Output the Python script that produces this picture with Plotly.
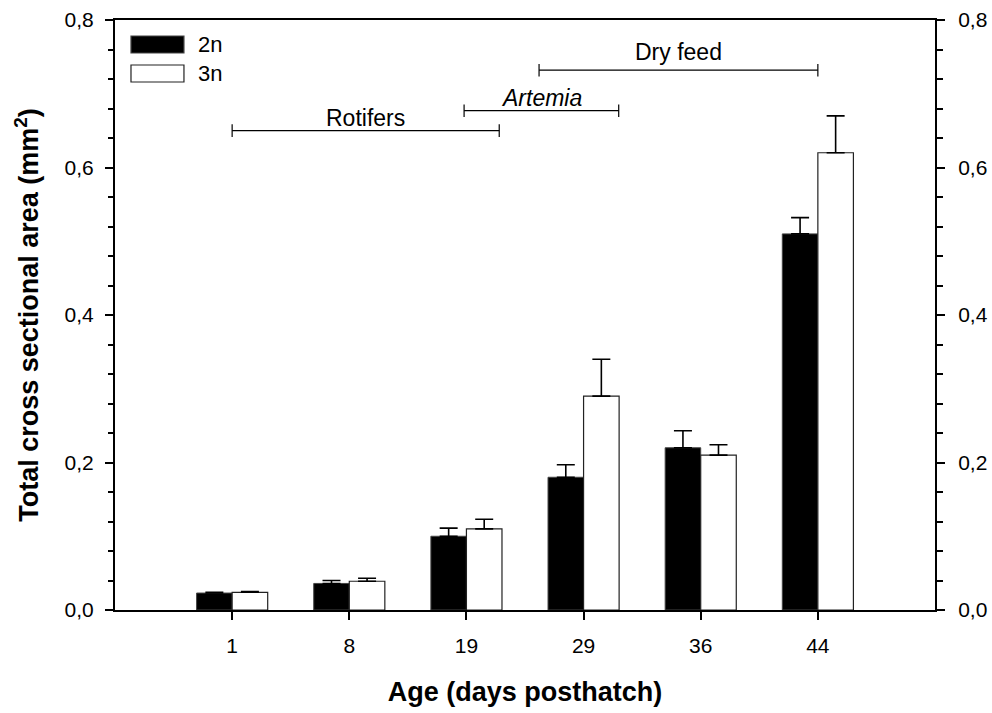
import plotly.graph_objects as go

# ---- data ----
days = ["1", "8", "19", "29", "36", "44"]
mean_2n = [0.023, 0.036, 0.100, 0.180, 0.220, 0.510]
se_2n = [0.001, 0.004, 0.011, 0.017, 0.023, 0.022]
mean_3n = [0.024, 0.039, 0.110, 0.290, 0.210, 0.620]
se_3n = [0.001, 0.004, 0.013, 0.050, 0.014, 0.050]

y_ticks = [0.0, 0.2, 0.4, 0.6, 0.8]

# feeding periods (positions in category-index units) and their level (y units)
feed_names = ["Rotifers", "<i>Artemia</i>", "Dry feed"]
feed_start = [0.0, 1.98, 2.62]
feed_end = [2.28, 3.30, 5.00]
feed_level = [0.650, 0.677, 0.732]

FONT = "Liberation Sans, Arial, sans-serif"
xpos = list(range(len(days)))
label_shift = [-2, -2, 3]

fig = go.Figure()
fig.add_trace(go.Bar(
    x=xpos, y=mean_2n, name="2n",
    marker=dict(color="black", line=dict(color="#444444", width=1)),
    error_y=dict(type="data", array=se_2n, arrayminus=[0] * len(se_2n), symmetric=False,
                 color="black", thickness=1.6, width=9),
    showlegend=False,
))
fig.add_trace(go.Bar(
    x=xpos, y=mean_3n, name="3n",
    marker=dict(color="white", line=dict(color="#222222", width=1.2)),
    error_y=dict(type="data", array=se_3n, arrayminus=[0] * len(se_3n), symmetric=False,
                 color="black", thickness=1.6, width=9),
    showlegend=False,
))
# invisible companion trace so the mirrored right-hand axis gets drawn with its ticks
fig.add_trace(go.Scatter(
    x=xpos, y=mean_3n, yaxis="y2", mode="markers", marker=dict(opacity=0, size=1),
    hoverinfo="skip", showlegend=False,
))

shapes = []
annotations = []
cap = 0.0085
for name, s, e, lv, sh in zip(feed_names, feed_start, feed_end, feed_level, label_shift):
    shapes.append(dict(type="line", xref="x", yref="y", x0=s, x1=e, y0=lv, y1=lv,
                       line=dict(color="black", width=1.2)))
    for xx in (s, e):
        shapes.append(dict(type="line", xref="x", yref="y", x0=xx, x1=xx, y0=lv - cap, y1=lv + cap,
                           line=dict(color="black", width=1.2)))
    annotations.append(dict(x=(s + e) / 2, y=lv, xref="x", yref="y", text=name, showarrow=False,
                            yanchor="bottom", yshift=sh, font=dict(family=FONT, size=23, color="black")))

# custom legend with wide swatches
leg_items = [("2n", "black", "#444444"), ("3n", "white", "#222222")]
leg_y = [(0.9729, 0.9441), (0.9237, 0.8949)]
for (lbl, fill, edge), (ytop, ybot) in zip(leg_items, leg_y):
    shapes.append(dict(type="rect", xref="paper", yref="paper", x0=0.0195, x1=0.0841, y0=ybot, y1=ytop,
                       fillcolor=fill, line=dict(color=edge, width=1.2)))
    annotations.append(dict(x=0.099, y=(ytop + ybot) / 2, xref="paper", yref="paper", text=lbl,
                            showarrow=False, xanchor="left", yanchor="middle",
                            font=dict(family=FONT, size=22, color="black")))

axis_common = dict(showgrid=False, zeroline=False, showline=True, linecolor="black", linewidth=2,
                   tickcolor="black", tickwidth=1.5, ticks="outside", ticklabeloverflow="allow",
                   tickfont=dict(family=FONT, size=21, color="black"))

fig.update_layout(
    width=992, height=713,
    margin=dict(l=115, r=57, t=20, b=103, autoexpand=False),
    paper_bgcolor="white", plot_bgcolor="white",
    separators=",.",
    barmode="group", bargap=0.393, bargroupgap=0,
    shapes=shapes, annotations=annotations,
    xaxis=dict(axis_common, range=[-1, 6], tickmode="array", tickvals=xpos, ticktext=days, ticklen=8,
               mirror=True, ticklabelstandoff=8,
               title=dict(text="<b>Age (days posthatch)</b>", standoff=26,
                          font=dict(family=FONT, size=27, color="black"))),
    yaxis=dict(axis_common, range=[0, 0.8], tickmode="array", tickvals=y_ticks, tickformat=".1f", ticklen=8,
               ticklabelstandoff=7,
               minor=dict(dtick=0.04, ticks="outside", ticklen=5, tickcolor="black", tickwidth=1.5),
               title=dict(text="<b>Total cross sectional area (mm<sup>2</sup>)</b>", standoff=18,
                          font=dict(family=FONT, size=27, color="black"))),
    yaxis2=dict(axis_common, range=[0, 0.8], tickmode="array", tickvals=y_ticks, tickformat=".1f", ticklen=8,
                overlaying="y", side="right", anchor="x", ticklabelstandoff=9,
                minor=dict(dtick=0.04, ticks="outside", ticklen=6, tickcolor="black", tickwidth=1.5)),
)

fig.write_html("out.html", config={"displayModeBar": False},
               post_script="document.body.style.margin='0';")
